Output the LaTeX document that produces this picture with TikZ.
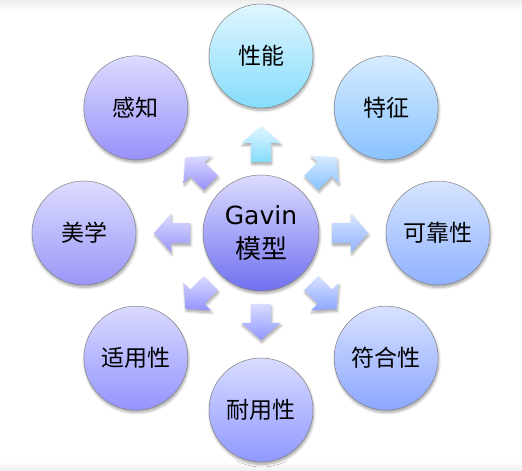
\documentclass[tikz,border=0pt]{standalone}
\usepackage{fontspec}
\setmainfont{DejaVu Sans}
\newfontfamily\cjk{Noto Sans CJK SC}
\usetikzlibrary{shadows.blur}
\definecolor{cAt}{HTML}{DFF6FF}\definecolor{cAb}{HTML}{86DCFC}
\definecolor{cBt}{HTML}{D6ECFF}\definecolor{cBb}{HTML}{88C2FF}
\definecolor{cCt}{HTML}{D6E4FF}\definecolor{cCb}{HTML}{90B2FF}
\definecolor{cDt}{HTML}{D8E2FF}\definecolor{cDb}{HTML}{8CA6FF}
\definecolor{cEt}{HTML}{D8DCFF}\definecolor{cEb}{HTML}{9098FF}
\definecolor{cFt}{HTML}{DADAFF}\definecolor{cFb}{HTML}{9494FF}
\definecolor{cGt}{HTML}{DCDCFF}\definecolor{cGb}{HTML}{9A96F8}
\definecolor{cHt}{HTML}{DCDCFF}\definecolor{cHb}{HTML}{9890FA}
\definecolor{cMt}{HTML}{DCDCFF}\definecolor{cMb}{HTML}{7070F0}
\begin{document}
\begin{tikzpicture}[x=1pt,y=1pt,
  softshadow/.style={blur shadow={shadow xshift=0.8pt, shadow yshift=-2.5pt, shadow blur steps=6, shadow blur radius=2.5pt, shadow opacity=35}},
  bubble/.style={circle, draw=black!50, line width=0.5pt, minimum size=104pt, inner sep=0pt,
    font=\cjk\fontsize{23}{26}\selectfont, softshadow},
  hub/.style={bubble, minimum size=116pt, font=\fontsize{25}{34}\selectfont, align=center},
  blockarrow/.style={softshadow}
]
\useasboundingbox (0,0) rectangle (522,471);
\shade[top color=black!7, bottom color=white] (0,471) rectangle (522,459);
\shade[top color=white, bottom color=black!7] (0,9) rectangle (522,0);

\coordinate (ctr) at (261,238);

% block arrows
\foreach \ang/\ct/\cb in {90/cAt/cAb, 45/cBt/cBb, 0/cCt/cCb, -45/cDt/cDb, -90/cEt/cEb, -135/cFt/cFb, 180/cGt/cGb, 135/cHt/cHb}{
  \shade[blockarrow, top color=\ct, bottom color=\cb, shift={(ctr)}, rotate=\ang]
    (71,-10) -- (90,-10) -- (90,-19.5) -- (107,0) -- (90,19.5) -- (90,10) -- (71,10) -- cycle;
}

\node[hub, top color=cMt, bottom color=cMb] (hub) at (ctr) {Gavin\\{\cjk\fontsize{26}{34}\selectfont 模型}};

\node[bubble, top color=cAt, bottom color=cAb] (xn) at ($(ctr)+(90:177)$) {性能};
\node[bubble, top color=cBt, bottom color=cBb] (tz) at ($(ctr)+(45:177)$) {特征};
\node[bubble, top color=cCt, bottom color=cCb] (kk) at ($(ctr)+(0:177)$) {可靠性};
\node[bubble, top color=cDt, bottom color=cDb] (fh) at ($(ctr)+(-45:177)$) {符合性};
\node[bubble, top color=cEt, bottom color=cEb] (ny) at ($(ctr)+(-90:177)$) {耐用性};
\node[bubble, top color=cFt, bottom color=cFb] (sy) at ($(ctr)+(-135:177)$) {适用性};
\node[bubble, top color=cGt, bottom color=cGb] (mx) at ($(ctr)+(180:177)$) {美学};
\node[bubble, top color=cHt, bottom color=cHb] (gz) at ($(ctr)+(135:177)$) {感知};
\end{tikzpicture}
\end{document}
